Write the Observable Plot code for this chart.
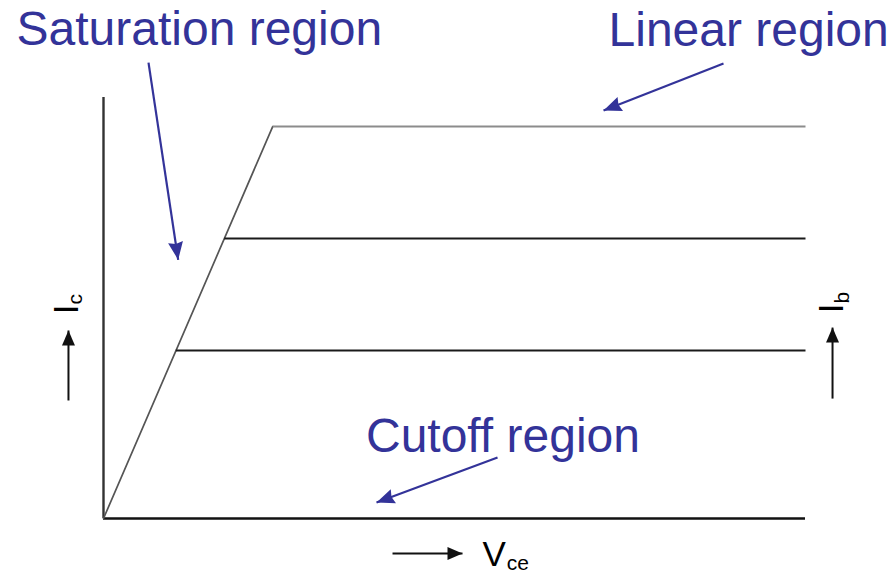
<!DOCTYPE html>
<html>
<head>
<meta charset="utf-8">
<script src="https://cdn.jsdelivr.net/npm/d3@7"></script>
<script src="https://cdn.jsdelivr.net/npm/@observablehq/plot@0.6"></script>
<style>
  html, body { margin: 0; padding: 0; background: #fff; }
  #chart svg { display: block; }
</style>
</head>
<body>
<div id="chart"></div>
<script>
// ---- Data ----
const curveNames = ["Ib high", "Ib mid", "Ib low"];
const icLevels   = [3.5, 2.5, 1.5];     // collector current of each flat curve
const kneeVce    = [2.41, 1.72, 1.03];  // Vce where each curve leaves the saturation line
const curveColors = ["#8c8c8c", "#1a1a1a", "#1a1a1a"];
const vceMax = 10;
const icAxisTop = 3.76;

// Region annotation labels (data coordinates)
const regionLabels = ["Saturation region", "Linear region", "Cutoff region"];
const regionLabelX = [-1.239, 7.194, 3.739];
const regionLabelY = [4.228, 4.223, 0.594];

// Region pointer arrows (data coordinates: tail -> tip)
const pointerX1 = [0.641, 8.832, 5.613];
const pointerY1 = [4.071, 4.063, 0.545];
const pointerX2 = [1.064, 7.123, 3.889];
const pointerY2 = [2.310, 3.643, 0.143];

// Axis-name labels
const axisMain = ["I", "I", "V"];
const axisSub  = ["c", "b", "ce"];

const blue = "#333399";
const font = "Liberation Sans, Arial, Helvetica, sans-serif";

// ---- Build tables from the arrays ----
const saturation = [{vce: 0, ic: 0}, {vce: kneeVce[0], ic: icLevels[0]}];
const curves = icLevels.map((ic, i) => ({name: curveNames[i], x1: kneeVce[i], x2: vceMax, ic, color: curveColors[i]}));
const labels = regionLabels.map((t, i) => ({t, x: regionLabelX[i], y: regionLabelY[i]}));
const pointers = regionLabels.map((t, i) => ({x1: pointerX1[i], y1: pointerY1[i], x2: pointerX2[i], y2: pointerY2[i]}));

// Vertical axis-name arrows (Ic on left, Ib on right) and horizontal Vce arrow
const vArrows = [
  {x: -0.499, y1: 1.054, y2: 1.679},
  {x: 10.385, y1: 1.071, y2: 1.705}
];
const hArrow = [{y: -0.3125, x1: 4.117, x2: 5.114}];
const rotatedMain = [
  {t: axisMain[0], x: -0.370, y: 1.824},
  {t: axisMain[1], x: 10.541, y: 1.834}
];
const rotatedSub = [
  {t: axisSub[0], x: -0.303, y: 1.911},
  {t: axisSub[1], x: 10.613, y: 1.920}
];

function headMarker(len, wid, notch) {
  return (color, context) => {
    const doc = (context && context.document) || document;
    const ns = "http://www.w3.org/2000/svg";
    const m = doc.createElementNS(ns, "marker");
    m.setAttribute("viewBox", "-30 -30 60 60");
    m.setAttribute("markerWidth", "60");
    m.setAttribute("markerHeight", "60");
    m.setAttribute("markerUnits", "userSpaceOnUse");
    m.setAttribute("orient", "auto");
    m.setAttribute("refX", "0");
    m.setAttribute("refY", "0");
    m.setAttribute("overflow", "visible");
    const p = doc.createElementNS(ns, "path");
    p.setAttribute("d", `M0,0L${-len},${-wid / 2}L${-len + notch},0L${-len},${wid / 2}Z`);
    p.setAttribute("fill", color);
    p.setAttribute("stroke", "none");
    m.appendChild(p);
    return m;
  };
}

const chart = Plot.plot({
  width: 889,
  height: 574,
  marginLeft: 103,
  marginRight: 84,
  marginTop: 97,
  marginBottom: 56,
  style: {background: "#fff", overflow: "visible", fontFamily: font},
  x: {domain: [0, vceMax], axis: null},
  y: {domain: [0, icAxisTop], axis: null},
  marks: [
    // axes lines
    Plot.ruleX([0], {y1: 0, y2: icAxisTop, stroke: "#333", strokeWidth: 2.4}),
    Plot.ruleY([0], {x1: 0, x2: vceMax, stroke: "#111", strokeWidth: 2.4}),
    // saturation line
    Plot.line(saturation, {x: "vce", y: "ic", stroke: "#555", strokeWidth: 1.7}),
    // flat curves
    Plot.link(curves, {x1: "x1", x2: "x2", y1: "ic", y2: "ic", stroke: d => d.color, strokeWidth: 2}),
    // region labels
    Plot.text(labels, {x: "x", y: "y", text: "t", fill: blue, fontSize: 48, textAnchor: "start", lineAnchor: "bottom", fontFamily: font}),
    // region pointers
    Plot.link(pointers, {x1: "x1", y1: "y1", x2: "x2", y2: "y2", stroke: blue, strokeWidth: 2.2, markerEnd: headMarker(18, 15, 2)}),
    // axis-name arrows
    Plot.link(vArrows, {x1: "x", x2: "x", y1: "y1", y2: "y2", stroke: "#111", strokeWidth: 2, markerEnd: headMarker(15, 13, 0)}),
    Plot.link(hArrow, {x1: "x1", x2: "x2", y1: "y", y2: "y", stroke: "#111", strokeWidth: 2, markerEnd: headMarker(15, 13, 0)}),
    // rotated Ic / Ib labels
    Plot.text(rotatedMain, {x: "x", y: "y", text: "t", rotate: -90, fill: "#000", fontSize: 35, textAnchor: "start", lineAnchor: "bottom", fontFamily: font}),
    Plot.text(rotatedSub, {x: "x", y: "y", text: "t", rotate: -90, fill: "#000", fontSize: 21, textAnchor: "start", lineAnchor: "bottom", fontFamily: font}),
    // Vce label
    Plot.text([{t: axisMain[2], x: 5.399, y: -0.420}], {x: "x", y: "y", text: "t", fill: "#000", fontSize: 35, textAnchor: "start", lineAnchor: "bottom", fontFamily: font}),
    Plot.text([{t: axisSub[2], x: 5.745, y: -0.462}], {x: "x", y: "y", text: "t", fill: "#000", fontSize: 21, textAnchor: "start", lineAnchor: "bottom", fontFamily: font})
  ]
});
document.getElementById("chart").appendChild(chart);
</script>
</body>
</html>
